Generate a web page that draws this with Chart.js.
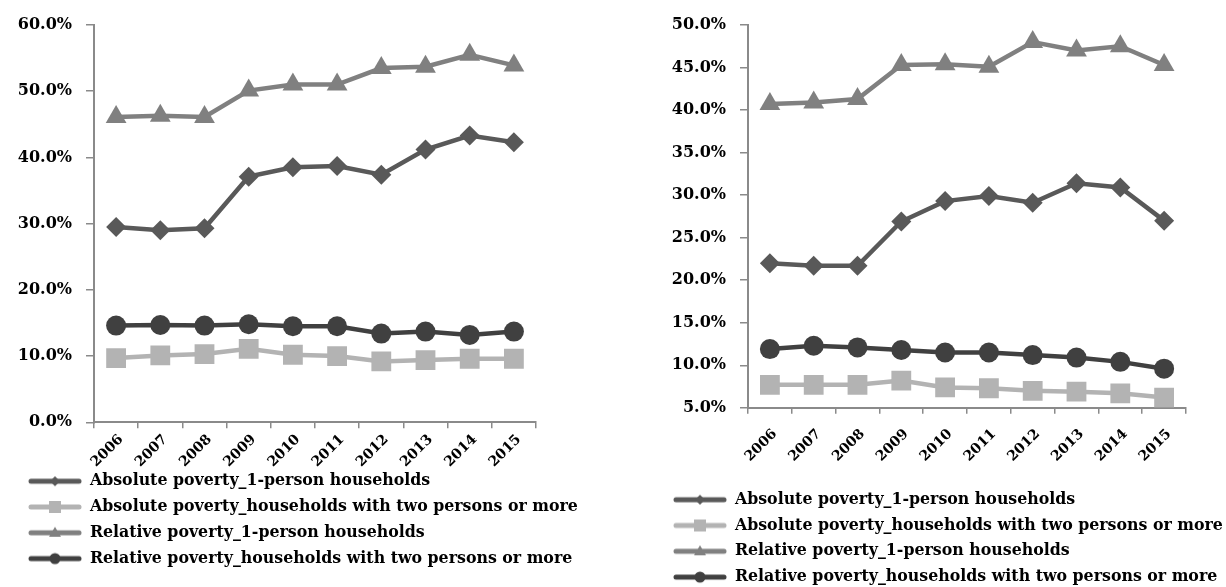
<!DOCTYPE html>
<html>
<head>
<meta charset="utf-8">
<script src="https://cdn.jsdelivr.net/npm/chart.js@4.4.1/dist/chart.umd.min.js"></script>
<style>
  html, body { margin: 0; padding: 0; background: #ffffff; overflow: hidden; width: 1226px; height: 587px; }
  canvas { position: absolute; top: 0; }
  #panelA { left: 0; }
  #panelB { left: 620px; }
</style>
</head>
<body>
<canvas id="panelA" width="613" height="600"></canvas>
<canvas id="panelB" width="606" height="600"></canvas>
<script>
// Survey years
const years = ['2006', '2007', '2008', '2009', '2010', '2011', '2012', '2013', '2014', '2015'];

// Series names
const seriesNames = [
  'Absolute poverty_1-person households',
  'Absolute poverty_households with two persons or more',
  'Relative poverty_1-person households',
  'Relative poverty_households with two persons or more'
];

// Left panel (%)
const absSingleA = [29.5, 29.0, 29.3, 37.1, 38.5, 38.7, 37.4, 41.2, 43.3, 42.3];
const absMultiA  = [9.7, 10.1, 10.3, 11.1, 10.2, 10.0, 9.2, 9.4, 9.6, 9.6];
const relSingleA = [46.1, 46.3, 46.1, 50.1, 51.0, 51.0, 53.5, 53.7, 55.5, 53.9];
const relMultiA  = [14.6, 14.7, 14.6, 14.8, 14.5, 14.5, 13.4, 13.7, 13.2, 13.7];

// Right panel (%)
const absSingleB = [22.0, 21.7, 21.7, 26.9, 29.3, 29.9, 29.1, 31.4, 30.9, 27.0];
const absMultiB  = [7.7, 7.7, 7.7, 8.2, 7.4, 7.3, 7.0, 6.9, 6.7, 6.2];
const relSingleB = [40.7, 40.9, 41.3, 45.3, 45.4, 45.1, 48.0, 47.0, 47.5, 45.3];
const relMultiB  = [11.9, 12.3, 12.1, 11.8, 11.5, 11.5, 11.2, 10.9, 10.4, 9.6];

// Y-axis ranges
const yRangeA = { min: 0, max: 60, step: 10 };
const yRangeB = { min: 5, max: 50, step: 5 };

// Styles per series
const styles = [
  { color: '#595959', point: 'rectRot',  radius: 10, legendMark: 'diamond' },
  { color: '#b3b3b3', point: 'rect',     radius: 14, legendMark: 'square' },
  { color: '#808080', point: 'triangle', radius: 12, legendMark: 'triangle' },
  { color: '#404040', point: 'circle',   radius: 10, legendMark: 'circle' }
];

const Y_FONT = { family: '"DejaVu Serif", serif', size: 16, weight: 'bold' };
const X_FONT = { family: '"DejaVu Serif", serif', size: 14, weight: 'bold' };
const LEGEND_FONT = { family: '"DejaVu Serif", serif', size: 15.8, weight: 'bold' };
const AXIS_COLOR = '#8a8a8a';

// Small line-with-marker swatch for the legend
function legendSwatch(style) {
  const c = document.createElement('canvas');
  c.width = 54; c.height = 16;
  const g = c.getContext('2d');
  g.strokeStyle = style.color; g.fillStyle = style.color;
  g.lineWidth = 5; g.lineCap = 'round';
  g.beginPath(); g.moveTo(3, 8); g.lineTo(51, 8); g.stroke();
  const cx = 27, cy = 8;
  g.beginPath();
  if (style.legendMark === 'diamond') {
    g.moveTo(cx, cy - 5); g.lineTo(cx + 5, cy); g.lineTo(cx, cy + 5); g.lineTo(cx - 5, cy);
    g.closePath();
  } else if (style.legendMark === 'square') {
    g.rect(cx - 6, cy - 6, 12, 12);
  } else if (style.legendMark === 'triangle') {
    g.moveTo(cx, cy - 6); g.lineTo(cx + 6, cy + 4); g.lineTo(cx - 6, cy + 4);
    g.closePath();
  } else {
    g.arc(cx, cy, 5.5, 0, Math.PI * 2);
  }
  g.fill();
  return c;
}
const swatches = styles.map(legendSwatch);

// Moves the legend block vertically after layout
const legendNudge = {
  id: 'legendNudge',
  afterLayout(chart, args, opts) {
    const lg = chart.legend;
    if (lg && opts.dy) { lg.top += opts.dy; lg.bottom += opts.dy; }
  }
};

function buildDatasets(values) {
  return values.map((data, i) => ({
    label: seriesNames[i],
    data: data,
    borderColor: styles[i].color,
    backgroundColor: styles[i].color,
    borderWidth: 4.5,
    pointStyle: styles[i].point,
    pointRadius: styles[i].radius,
    pointBorderWidth: 0,
    pointBackgroundColor: styles[i].color,
    tension: 0
  }));
}

function buildChart(canvasId, values, range, geom) {
  return new Chart(document.getElementById(canvasId), {
    type: 'line',
    data: { labels: years, datasets: buildDatasets(values) },
    plugins: [legendNudge],
    options: {
      responsive: false,
      animation: false,
      devicePixelRatio: 1,
      layout: { padding: geom.padding },
      plugins: {
        tooltip: { enabled: false },
        legendNudge: { dy: geom.legendDy },
        legend: {
          display: true,
          position: 'bottom',
          align: 'start',
          labels: {
            usePointStyle: true,
            pointStyleWidth: 54,
            padding: 10,
            color: '#000000',
            font: LEGEND_FONT,
            generateLabels: (chart) => chart.data.datasets.map((ds, i) => ({
              text: ds.label,
              pointStyle: swatches[i],
              fillStyle: styles[i].color,
              strokeStyle: styles[i].color,
              lineWidth: 0,
              hidden: false,
              datasetIndex: i
            }))
          }
        }
      },
      scales: {
        x: {
          type: 'category',
          offset: true,
          grid: {
            offset: true,
            drawOnChartArea: false,
            drawTicks: true,
            tickLength: 6,
            color: AXIS_COLOR,
            lineWidth: 1.5
          },
          border: { color: AXIS_COLOR, width: 2 },
          ticks: {
            autoSkip: false,
            minRotation: 45,
            maxRotation: 45,
            padding: geom.xLabelPad,
            labelOffset: 5,
            color: '#000000',
            font: X_FONT
          },
          afterFit: (s) => { s.height = geom.xHeight; }
        },
        y: {
          min: range.min,
          max: range.max,
          grid: {
            drawOnChartArea: false,
            drawTicks: true,
            tickLength: 8,
            color: AXIS_COLOR,
            lineWidth: 1.5
          },
          border: { color: AXIS_COLOR, width: 2 },
          ticks: {
            stepSize: range.step,
            padding: 14,
            color: '#000000',
            font: Y_FONT,
            callback: (v) => v.toFixed(1) + '%'
          },
          afterFit: (s) => { s.width = geom.yWidth; }
        },
        // empty right-hand gutter beside the plot
        gutter: {
          type: 'linear',
          position: 'right',
          display: true,
          grid: { display: false, drawTicks: false },
          border: { display: false },
          ticks: { display: false },
          afterFit: (s) => { s.width = geom.gutter; }
        }
      }
    }
  });
}

buildChart('panelA', [absSingleA, absMultiA, relSingleA, relMultiA], yRangeA, {
  padding: { left: 18, right: 0, top: 25, bottom: 2.5 },
  yWidth: 76,
  gutter: 77,
  xHeight: 62,
  xLabelPad: 3,
  legendDy: -21
});

buildChart('panelB', [absSingleB, absMultiB, relSingleB, relMultiB], yRangeB, {
  padding: { left: 43, right: 0, top: 25, bottom: 5 },
  yWidth: 85,
  gutter: 40,
  xHeight: 74,
  xLabelPad: 12,
  legendDy: 0
});
</script>
</body>
</html>
